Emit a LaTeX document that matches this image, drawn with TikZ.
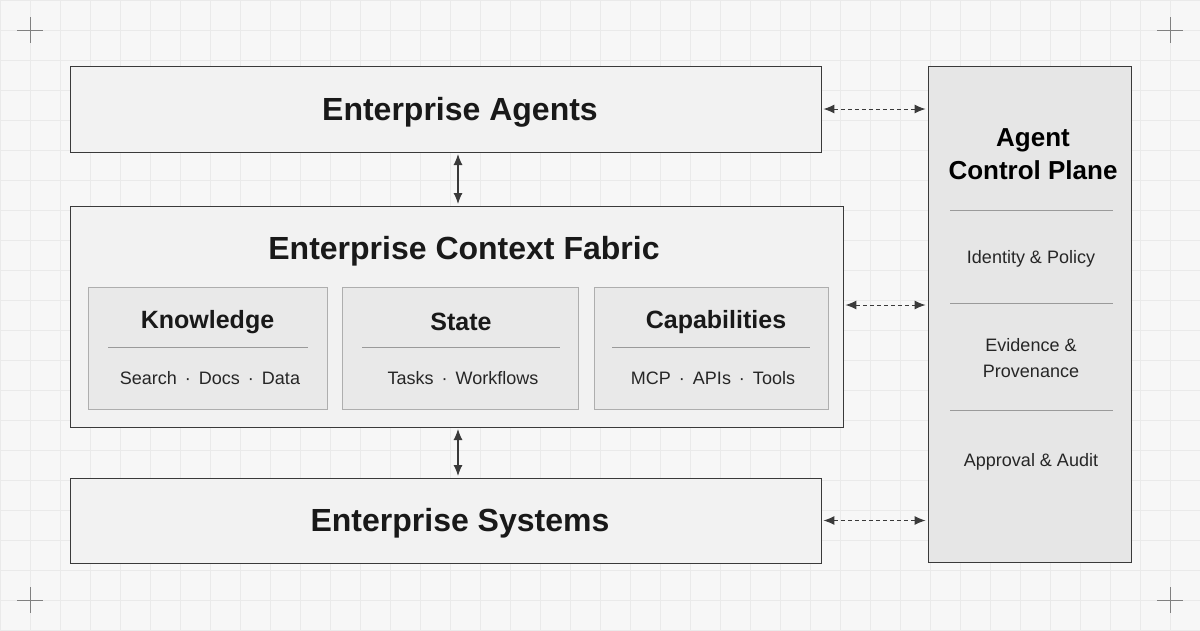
\documentclass[tikz,border=0pt]{standalone}
\usepackage{fontspec}
\setmainfont{Liberation Sans}
\usetikzlibrary{arrows.meta}
\definecolor{bg}{HTML}{F7F7F7}
\definecolor{gridc}{HTML}{EAEAEA}
\definecolor{boxf}{HTML}{F2F2F2}
\definecolor{subf}{HTML}{E9E9E9}
\definecolor{cpf}{HTML}{E6E6E6}
\definecolor{linec}{HTML}{3A3A3A}
\definecolor{sepc}{HTML}{9A9A9A}
\tikzset{
 box/.style={draw=linec,line width=0.9pt,fill=boxf,inner sep=0,rectangle},
 sub/.style={draw=sepc!80,line width=0.8pt,fill=subf,inner sep=0,rectangle},
 big/.style={font=\fontsize{32}{36}\selectfont\bfseries,text=black!90},
 mid/.style={font=\fontsize{25}{28}\selectfont\bfseries,text=black!90},
 small/.style={font=\fontsize{18}{22}\selectfont,text=black!85,align=center},
 varr/.style={{Latex[length=11pt,width=9pt]}-{Latex[length=11pt,width=9pt]},line width=1.1pt,draw=linec},
 darr/.style={{Latex[length=11pt,width=9pt]}-{Latex[length=11pt,width=9pt]},line width=1pt,draw=linec,dash pattern=on 4pt off 3pt},
 sep/.style={draw=sepc,line width=0.7pt},
 cornermark/.style={draw=black!50,line width=0.6pt}
}
\begin{document}
\begin{tikzpicture}[x=1pt,y=-1pt]
\useasboundingbox (0,0) rectangle (1200,630);
\fill[bg] (0,0) rectangle (1200,630);
\foreach \i in {0,30,...,1200}{\draw[gridc,line width=0.5pt] (\i,0) -- (\i,630);}
\foreach \j in {0,30,...,630}{\draw[gridc,line width=0.5pt] (0,\j) -- (1200,\j);}
\foreach \p in {(30,30),(1170,30),(30,600),(1170,600)}{
 \draw[cornermark] \p ++(-13,0) -- ++(26,0); \draw[cornermark] \p ++(0,-13) -- ++(0,26);}
% boxes
\node[box,minimum width=751,minimum height=86] (agents) at (445.5,109) {};
\node[big] at (460,112) {Enterprise Agents};
\node[box,minimum width=773,minimum height=221] (fabric) at (456.5,316.5) {};
\node[big] at (464,251) {Enterprise Context Fabric};
\node[box,minimum width=751,minimum height=85] (systems) at (445.5,520.5) {};
\node[big] at (460,523) {Enterprise Systems};
\node[box,fill=cpf,minimum width=203,minimum height=496] (cp) at (1029.5,314) {};
\node[align=center,font=\fontsize{26}{33}\selectfont\bfseries] at (1033,154) {Agent\\Control Plane};
\draw[sep] (950,210) -- (1113,210);
\draw[sep] (950,303) -- (1113,303);
\draw[sep] (950,410) -- (1113,410);
\node[small] at (1031,259) {Identity \& Policy};
\node[small,font=\fontsize{18}{26}\selectfont] at (1031,358) {Evidence \&\\Provenance};
\node[small] at (1031,462) {Approval \& Audit};
% sub boxes
\node[sub,minimum width=239,minimum height=122] (know) at (207.5,348) {};
\node[sub,minimum width=236,minimum height=122] (state) at (460,348) {};
\node[sub,minimum width=234,minimum height=122] (cap) at (711,348) {};
\node[mid] at (207.5,322) {Knowledge};
\node[mid] at (461,322) {State};
\node[mid] at (716,322) {Capabilities};
\draw[sep] (108,347) -- (308,347);
\draw[sep] (362,347) -- (560,347);
\draw[sep] (612,347) -- (810,347);
\node[small] at (210,378) {Search \,·\, Docs \,·\, Data};
\node[small] at (463,378) {Tasks \,·\, Workflows};
\node[small] at (713,378) {MCP \,·\, APIs \,·\, Tools};
% arrows
\coordinate (t1) at (458,154);
\coordinate (b1) at (458,204);
\coordinate (t2) at (458,429);
\coordinate (b2) at (458,476);
\draw[varr] (t1) -- (b1);
\draw[varr] (t2) -- (b2);
\draw[darr] ([xshift=2]agents.east) -- ([xshift=-2]cp.west |- agents.east);
\draw[darr] ([xshift=2]fabric.east |- 0,305) -- ([xshift=-2]cp.west |- 0,305);
\draw[darr] ([xshift=2]systems.east) -- ([xshift=-2]cp.west |- systems.east);
\end{tikzpicture}
\end{document}
